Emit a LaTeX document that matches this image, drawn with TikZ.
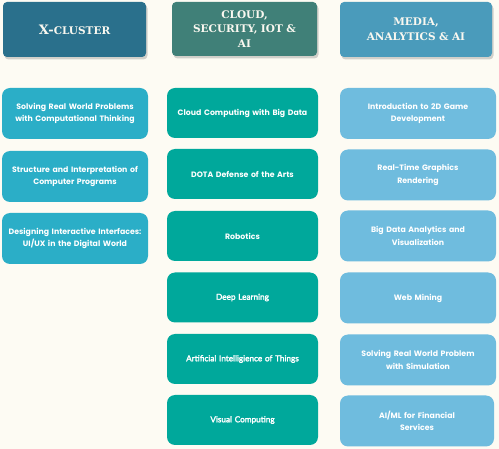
\documentclass[tikz,border=0pt]{standalone}
\usepackage{fontspec}
\setmainfont{Poppins}
\newfontfamily\bodyfont{Poppins Bold}
\newfontfamily\hdfont{DejaVu Serif}
\newfontfamily\latofont{Lato}[FakeBold=2.6]
\usetikzlibrary{shadows}
\definecolor{bgc}{RGB}{253,251,243}
\definecolor{hA}{RGB}{42,112,140}
\definecolor{hB}{RGB}{64,128,120}
\definecolor{hC}{RGB}{74,155,187}
\definecolor{cA}{RGB}{43,174,199}
\definecolor{cB}{RGB}{0,168,155}
\definecolor{cC}{RGB}{111,188,222}
\definecolor{htxt}{RGB}{250,248,240}
\tikzset{
  hdr/.style={draw=none, rounded corners=4pt, inner sep=2pt, align=center,
    text=htxt, font=\hdfont\bfseries\fontsize{10.5}{14.5}\selectfont,
    drop shadow={opacity=0.35, shadow xshift=1.5pt, shadow yshift=-2.5pt}},
  crs/.style={draw=none, rounded corners=8pt, inner sep=2pt, align=center,
    text=white, font=\bodyfont\fontsize{7.8}{12.5}\selectfont},
  lato/.style={font=\latofont\fontsize{8.2}{12}\selectfont},
  c1/.style={crs, fill=cA, minimum width=144pt, minimum height=51pt, text width=142pt},
  c2/.style={crs, fill=cB, minimum width=149pt, minimum height=50pt, text width=147pt},
  c3/.style={crs, fill=cC, minimum width=156pt, minimum height=51pt, text width=124pt},
}
\begin{document}
\begin{tikzpicture}[x=1pt,y=-1pt]
\fill[bgc] (0,0) rectangle (499,449);
\useasboundingbox (0,0) rectangle (499,449);
% headers
\node[hdr, fill=hA, minimum width=143pt, minimum height=55pt] (hx) at (74.5,29.5)
  {{\fontsize{13}{14.5}\selectfont X-}{\fontsize{10.5}{14.5}\selectfont CLUSTER}};
\node[hdr, fill=hB, minimum width=145pt, minimum height=54pt, text width=130pt] (hc) at (244.5,29)
  {CLOUD,\\SECURITY, IOT \&\\AI};
\node[hdr, fill=hC, minimum width=152pt, minimum height=55pt, text width=140pt] (hm) at (416,29.5)
  {MEDIA,\\ANALYTICS \& AI};
% column 1
\node[c1] (a1) at (75,113.5) {Solving Real World Problems\\with Computational Thinking};
\node[c1] (a2) at (75,176.5) {Structure and Interpretation of\\Computer Programs};
\node[c1] (a3) at (75,238.5) {Designing Interactive Interfaces:\\UI/UX in the Digital World};
% column 2
\node[c2] (b1) at (242.5,113) {Cloud Computing with Big Data};
\node[c2] (b2) at (242.5,174) {DOTA Defense of the Arts};
\node[c2] (b3) at (242.5,236) {Robotics};
\node[c2, lato] (b4) at (242.5,297.5) {Deep Learning};
\node[c2, lato] (b5) at (242.5,359) {Artificial Intelligience of Things};
\node[c2, lato] (b6) at (242.5,420) {Visual Computing};
% column 3
\node[c3] (m1) at (418,113.5) {Introduction to 2D Game\\Development};
\node[c3] (m2) at (418,175) {Real-Time Graphics\\Rendering};
\node[c3] (m3) at (418,236) {Big Data Analytics and\\Visualization};
\node[c3] (m4) at (418,298) {Web Mining};
\node[c3] (m5) at (418,360) {Solving Real World Problem\\with Simulation};
\node[c3, minimum width=154pt] (m6) at (417,421) {AI/ML for Financial\\Services};
\end{tikzpicture}
\end{document}
